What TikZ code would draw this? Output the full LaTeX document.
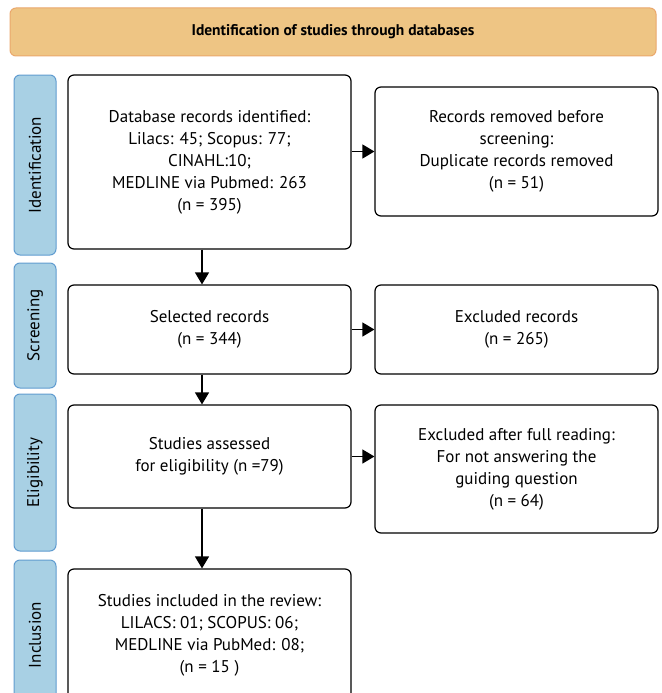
\documentclass[tikz,border=0pt]{standalone}
\usepackage{fontspec}
\setmainfont{PT Sans}
\usetikzlibrary{arrows.meta}
\definecolor{headfill}{RGB}{238,197,132}
\definecolor{headline}{RGB}{234,168,108}
\definecolor{barfill}{RGB}{168,208,228}
\definecolor{barline}{RGB}{96,156,208}
\begin{document}
\begin{tikzpicture}[x=1pt,y=-1pt,
  box/.style={draw,line width=1.2pt,rounded corners=6pt,minimum width=283pt,align=center,font=\fontsize{17}{22}\selectfont},
  bar/.style={draw=barline,fill=barfill,line width=1pt,rounded corners=6pt,minimum width=42pt},
  barlabel/.style={rotate=90,font=\fontsize{17}{20}\selectfont},
  head/.style={draw=headline,fill=headfill,line width=1pt,rounded corners=6pt,minimum width=646pt,minimum height=48pt,font=\fontsize{15.5}{18}\selectfont\bfseries},
  flow/.style={line width=1.2pt,-{Triangle[width=14pt,length=12pt]}}]
\useasboundingbox (0,0) rectangle (661,693);
\clip (0,0) rectangle (661,693);
\node[head] (title) at (333,32) {Identification of studies through databases};
\node[bar,minimum height=180pt] (ident) at (35,165) {};
\node[barlabel] at (ident) {Identification};
\node[bar,minimum height=125pt] (screen) at (35,325.5) {};
\node[barlabel] at (screen) {Screening};
\node[bar,minimum height=157pt] (elig) at (35,472.5) {};
\node[barlabel] at (elig) {Eligibility};
\node[bar,minimum height=150pt] (incl) at (35,635) {};
\node[barlabel] at (incl) {Inclusion};
\node[box,minimum height=174pt] (found) at (209.5,162) {Database records identified:\\Lilacs: 45; Scopus: 77;\\CINAHL:10;\\MEDLINE via Pubmed: 263\\(n = 395)};
\node[box,minimum height=129pt] (dupl) at (516.5,151.5) {Records removed before\\screening:\\Duplicate records removed\\(n = 51)};
\node[box,minimum height=89pt] (select) at (209.5,329.5) {Selected records\\(n = 344)};
\node[box,minimum height=89pt] (excl) at (516.5,329.5) {Excluded records\\(n = 265)};
\node[box,minimum height=103pt] (assess) at (209.5,456.5) {Studies assessed\\for eligibility (n =79)};
\node[box,minimum height=128pt] (fullread) at (516.5,469) {Excluded after full reading:\\For not answering the\\guiding question\\(n = 64)};
\node[box,minimum height=132pt] (review) at (209.5,635) {Studies included in the review:\\LILACS: 01; SCOPUS: 06;\\MEDLINE via PubMed: 08;\\(n = 15 )};
\draw[flow] ([xshift=-7.5pt]found.south) -- ([xshift=-7.5pt]select.north);
\draw[flow] ([xshift=-7.5pt]select.south) -- ([xshift=-7.5pt]assess.north);
\draw[flow] ([xshift=-7.5pt]assess.south) -- ([xshift=-7.5pt]review.north);
\draw[flow] (found.east |- dupl.west) -- (dupl.west);
\draw[flow] (select.east) -- (excl.west);
\draw[flow] (assess.east) -- (fullread.west |- assess.east);
\end{tikzpicture}
\end{document}
